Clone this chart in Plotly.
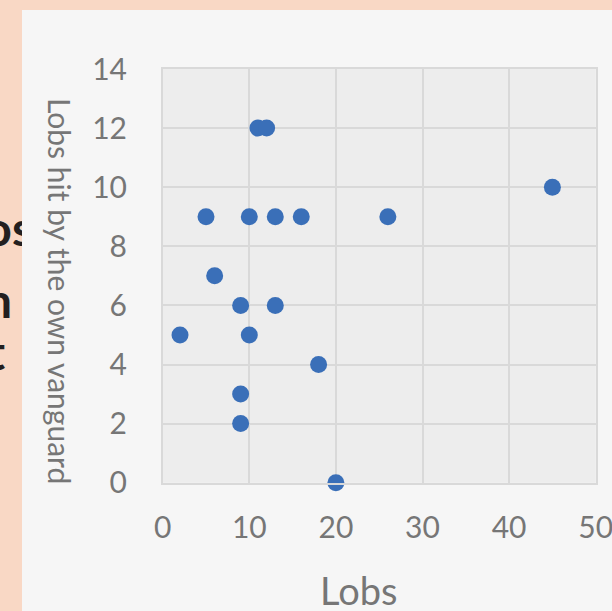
import plotly.graph_objects as go

# ---- data ----
lobs = [11, 12, 5, 10, 13, 16, 26, 45, 6, 9, 13, 2, 10, 18, 9, 9, 20]
hit_by_vanguard = [12, 12, 9, 9, 9, 9, 9, 10, 7, 6, 6, 5, 5, 4, 3, 2, 0]
x_ticks = [0, 10, 20, 30, 40, 50]
y_ticks = [0, 2, 4, 6, 8, 10, 12, 14]
x_title = "Lobs"
y_title = "Lobs hit by the own vanguard"
bg_words = ["os", "n", "t"]

W, H = 612, 611
def px(x): return x / W
def py(y): return 1 - y / H

x_dom = [px(162.7), px(595.7)]
y_dom = [py(482.7), py(69)]

fig = go.Figure()

# clipped slide-title fragments peeking out behind the panel
fig.add_trace(go.Scatter(
    x=[33, 12, 5], y=[234, 306, 358], text=bg_words, mode="text",
    textposition="middle left", cliponaxis=True,
    textfont=dict(family="Lato", size=48, color="#231F20", weight="bold"),
    xaxis="x2", yaxis="y2", hoverinfo="skip", showlegend=False))

fig.add_trace(go.Scatter(
    x=lobs, y=hit_by_vanguard, mode="markers", cliponaxis=False,
    marker=dict(size=17, color="#3A6FB8", line=dict(width=0)),
    showlegend=False))

grid = "#D9D9D9"
tickfont = dict(family="Lato", size=30, color="#767676")
fig.update_layout(
    width=W, height=H, autosize=False,
    margin=dict(l=0, r=0, t=0, b=0, pad=0),
    paper_bgcolor="#F9D8C5", plot_bgcolor="rgba(0,0,0,0)",
    xaxis=dict(domain=x_dom, range=[0, 50], tickvals=x_ticks,
               showgrid=True, gridcolor=grid, gridwidth=1.5,
               showline=True, linecolor=grid, linewidth=1.5, mirror=True,
               zeroline=False, tickfont=tickfont, ticks="", automargin=False,
               ticklabelstandoff=18, ticklabeloverflow="allow",
               fixedrange=True),
    yaxis=dict(domain=y_dom, range=[0, 14], tickvals=y_ticks,
               showgrid=True, gridcolor=grid, gridwidth=1.5,
               showline=True, linecolor=grid, linewidth=1.5, mirror=True,
               zeroline=False, tickfont=tickfont, ticks="", automargin=False,
               ticklabelstandoff=28, ticklabeloverflow="allow",
               fixedrange=True),
    xaxis2=dict(domain=[0, px(22)], range=[0, 22], visible=False,
                anchor="y2", showgrid=False, zeroline=False, automargin=False),
    yaxis2=dict(domain=[0, 1], range=[H, 0], visible=False,
                anchor="x2", showgrid=False, zeroline=False, automargin=False),
    shapes=[
        dict(type="rect", xref="paper", yref="paper", x0=px(22), x1=1,
             y0=0, y1=py(10), fillcolor="#F6F6F6", line=dict(width=0),
             layer="below"),
        dict(type="rect", xref="x domain", yref="y domain", x0=0, x1=1,
             y0=0, y1=1, fillcolor="#EDEDED", line=dict(width=0),
             layer="below"),
    ],
    annotations=[
        dict(text=x_title, x=px(358), y=py(590), xref="paper", yref="paper",
             showarrow=False, xanchor="center", yanchor="middle",
             font=dict(family="Lato", size=38, color="#767676")),
        dict(text=y_title, x=px(60), y=py(291), xref="paper", yref="paper",
             showarrow=False, xanchor="center", yanchor="middle", textangle=90,
             font=dict(family="Lato", size=30, color="#767676")),
    ],
)

fig.write_html("out.html", config={"displayModeBar": False},
               post_script="document.body.style.margin='0';"
                           "document.body.style.background='#F9D8C5';")
